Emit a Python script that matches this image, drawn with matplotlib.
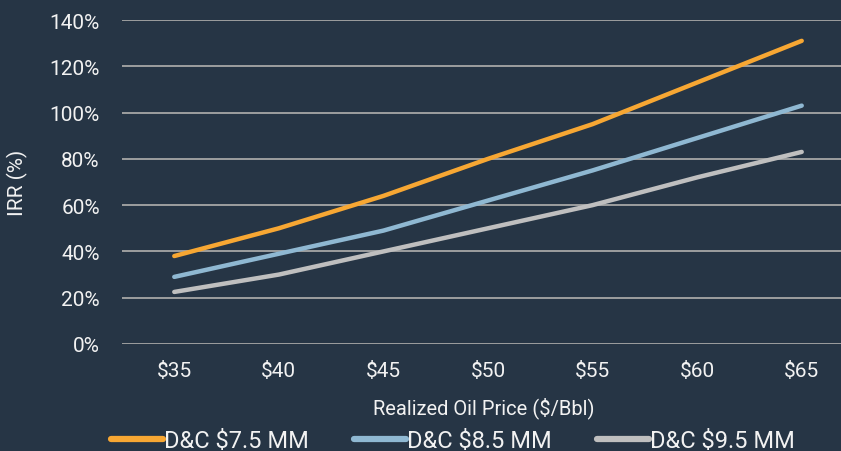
import matplotlib.pyplot as plt
import numpy as np

# IRR sensitivity to realized oil price, per D&C cost case
prices = ['$35', '$40', '$45', '$50', '$55', '$60', '$65']
irr_75 = [38, 50, 64, 80, 95, 113, 131]
irr_85 = [29, 39, 49, 62, 75, 89, 103]
irr_95 = [22.5, 30, 40, 50, 60, 72, 83]
series_names = ['D&C $7.5 MM', 'D&C $8.5 MM', 'D&C $9.5 MM']
yticks = [0, 20, 40, 60, 80, 100, 120, 140]

bg = '#263545'
txt = '#F2F2F2'
colors = ['#F7A733', '#8FB8D2', '#BFBFBF']

plt.rcParams['font.family'] = ['Roboto', 'DejaVu Sans']

fig = plt.figure(figsize=(8.41, 4.52), dpi=100, facecolor=bg)
ax = fig.add_axes([122/841, 107/452, 732/841, 324/452], facecolor=bg)

x = np.arange(len(prices))
for vals, c, name in zip([irr_75, irr_85, irr_95], colors, series_names):
    ax.plot(x, vals, color=c, lw=3.2, solid_capstyle='round', label=name, zorder=3)

ax.set_xlim(-0.5, len(prices) - 0.5)
ax.set_ylim(0, 140)
ax.set_yticks(yticks)
ax.set_yticklabels(['%d%%' % v for v in yticks])
ax.set_xticks(x)
ax.set_xticklabels(prices)
ax.yaxis.grid(True, color='#A6A6A6', lw=1.3, zorder=1)
ax.set_axisbelow(True)
for s in ax.spines.values():
    s.set_visible(False)
ax.tick_params(axis='both', length=0, colors=txt, labelsize=15)
for t in ax.yaxis.get_major_ticks():
    t.set_pad(16)
for t in ax.xaxis.get_major_ticks():
    t.set_pad(12)

ax.set_ylabel('IRR (%)', color=txt, fontsize=15)
ax.yaxis.set_label_coords(-(122 - 28) / 732, 0.5)
ax.set_xlabel('Realized Oil Price ($/Bbl)', color=txt, fontsize=14.5)
ax.xaxis.set_label_coords((484 - 122) / 732, -(397 - 345) / 324)

leg = fig.legend(loc='center', bbox_to_anchor=(453/841, 10/452), ncol=3, frameon=False,
                 fontsize=17, handlelength=2.2, handletextpad=0.05, columnspacing=1.9)
for t in leg.get_texts():
    t.set_color(txt)
for h in leg.get_lines():
    h.set_linewidth(4.5)

fig.savefig('out.png', facecolor=bg)
